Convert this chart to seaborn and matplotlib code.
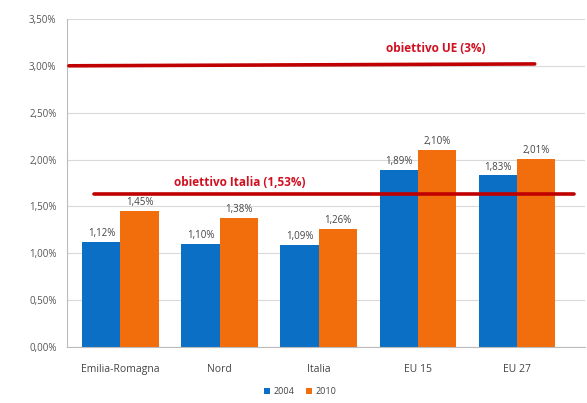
import matplotlib
matplotlib.use('Agg')
from matplotlib import pyplot as plt
from matplotlib.ticker import FuncFormatter
import seaborn as sns
import pandas as pd

areas = ['Emilia-Romagna', 'Nord', 'Italia', 'EU 15', 'EU 27']
val_2004 = [1.12, 1.10, 1.09, 1.89, 1.83]
val_2010 = [1.45, 1.38, 1.26, 2.10, 2.01]
years = ['2004', '2010']

target_ue = [3.00, 3.02]
target_ue_x = [-0.52, 4.18]
target_it = [1.63, 1.63]
target_it_x = [-0.27, 4.58]

df = pd.DataFrame({
    'area': areas * 2,
    'valore': val_2004 + val_2010,
    'anno': [years[0]] * len(areas) + [years[1]] * len(areas),
})

sns.set_style('white')
plt.rcParams['font.family'] = ['Open Sans', 'DejaVu Sans']

fig = plt.figure(figsize=(5.87, 4.03), dpi=100)
ax = fig.add_axes([0.114, 0.139, 0.883, 0.814])

sns.barplot(data=df, x='area', y='valore', hue='anno', palette=['#0B6FC6', '#F26D0C'],
            width=0.77, gap=0, saturation=1, linewidth=0, ax=ax, zorder=2)

for cont in ax.containers:
    labels = [('%.2f%%' % b.get_height()).replace('.', ',') for b in cont]
    ax.bar_label(cont, labels=labels, padding=2, fontsize=7, color='#444444')

ax.plot(target_ue_x, target_ue, color='#C00000', lw=2.6, zorder=3)
ax.plot(target_it_x, target_it, color='#C00000', lw=2.6, zorder=3)
ax.text(3.18, 3.18, 'obiettivo UE (3%)', color='#D01020', fontsize=8.5,
        fontweight='bold', ha='center', va='center')
ax.text(1.2, 1.75, 'obiettivo Italia (1,53%)', color='#D01020', fontsize=8.5,
        fontweight='bold', ha='center', va='center')

ax.set_ylim(0, 3.5)
ax.set_xlim(-0.54, 4.69)
ax.set_yticks([i * 0.5 for i in range(8)])
ax.yaxis.set_major_formatter(FuncFormatter(lambda v, p: ('%.2f%%' % v).replace('.', ',')))
ax.grid(axis='y', color='#D9D9D9', lw=0.8, zorder=0)
ax.set_axisbelow(True)
ax.set_xlabel('')
ax.set_ylabel('')
ax.tick_params(axis='y', labelsize=7, colors='#555555', length=4, color='#BBBBBB', direction='out')
ax.tick_params(axis='x', labelsize=7.5, colors='#444444', length=0, pad=12)
for name, spine in ax.spines.items():
    spine.set_visible(False)
ax.spines['left'].set_visible(True)
ax.spines['left'].set_color('#BBBBBB')
ax.spines['bottom'].set_visible(True)
ax.spines['bottom'].set_color('#BBBBBB')

ax.legend(loc='center', bbox_to_anchor=(0.45, -0.137), ncol=2, frameon=False,
          fontsize=6.5, handlelength=0.7, handleheight=0.7, handletextpad=0.4,
          columnspacing=1.2, labelcolor='#444444')

fig.savefig('out.png', dpi=100)
